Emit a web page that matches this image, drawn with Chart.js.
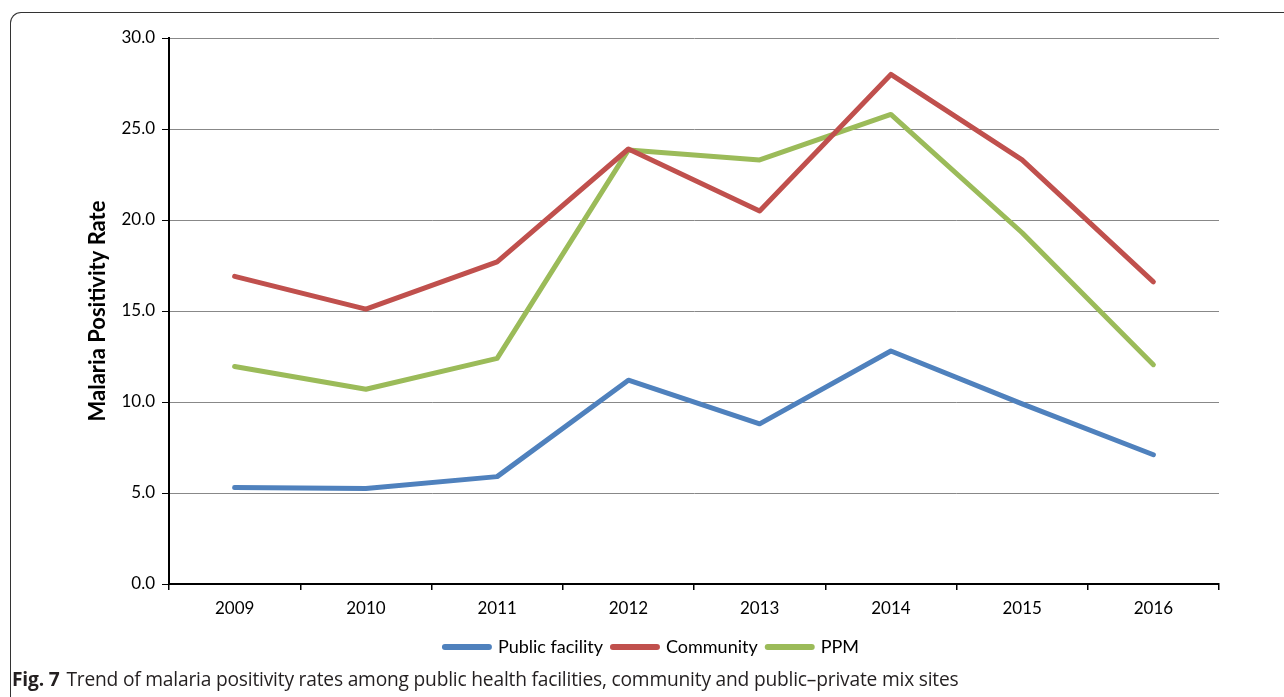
<!DOCTYPE html>
<html>
<head>
<meta charset="utf-8">
<script src="https://cdn.jsdelivr.net/npm/chart.js@4"></script>
<style>
  html, body { margin: 0; padding: 0; background: #fff; }
  #wrap { position: relative; width: 1284px; height: 697px; overflow: hidden; }
  #frame {
    position: absolute; left: 10px; top: 12px; width: 1400px; height: 800px;
    border-left: 1.5px solid #333; border-top: 1.5px solid #333;
    border-top-left-radius: 11px;
  }
  #chart { position: absolute; left: 0; top: 0; }
  #caption {
    position: absolute; left: 12px; top: 665px;
    font-family: "Open Sans", sans-serif; font-size: 19.2px; color: #231f20;
    white-space: nowrap; letter-spacing: -0.2px;
  }
  #caption b { font-weight: 700; margin-right: 7px; }
</style>
</head>
<body>
<div id="wrap">
  <div id="frame"></div>
  <canvas id="chart" width="1284" height="697"></canvas>
  <div id="caption"><b>Fig. 7</b>Trend of malaria positivity rates among public health facilities, community and public–private mix sites</div>
</div>
<script>
const years = ['2009', '2010', '2011', '2012', '2013', '2014', '2015', '2016'];
const publicFacility = [5.3, 5.25, 5.9, 11.2, 8.8, 12.8, 9.9, 7.1];
const community = [16.9, 15.1, 17.7, 23.9, 20.5, 28.0, 23.3, 16.6];
const ppm = [11.95, 10.7, 12.4, 23.85, 23.3, 25.8, 19.3, 12.05];
const yTicks = [0, 5, 10, 15, 20, 25, 30];

const ctx = document.getElementById('chart');

function line(label, data, color) {
  return {
    label: label,
    data: data,
    borderColor: color,
    backgroundColor: color,
    borderWidth: 5,
    borderCapStyle: 'round',
    borderJoinStyle: 'round',
    pointRadius: 0,
    pointStyle: 'line',
    tension: 0
  };
}

new Chart(ctx, {
  type: 'line',
  data: {
    labels: years,
    datasets: [
      line('Public facility', publicFacility, '#4f81bd'),
      line('Community', community, '#c0504d'),
      line('PPM', ppm, '#9bbb59')
    ]
  },
  options: {
    responsive: false,
    animation: false,
    layout: { padding: { left: 85, right: 65, top: 38, bottom: 31 } },
    plugins: {
      tooltip: { enabled: false },
      legend: {
        position: 'bottom',
        labels: {
          usePointStyle: true,
          pointStyleWidth: 44,
          boxHeight: 6,
          padding: 10,
          color: '#000',
          font: { family: 'Lato', size: 18 },
          generateLabels: function (chart) {
            const items = Chart.defaults.plugins.legend.labels.generateLabels(chart);
            return items.map(it => Object.assign(it, { lineCap: 'round', lineWidth: 6 }));
          }
        }
      }
    },
    scales: {
      x: {
        offset: true,
        afterFit: function (s) { s.height = 44; },
        grid: {
          offset: true,
          drawOnChartArea: false,
          color: '#000',
          tickLength: 6,
          lineWidth: 1.5
        },
        border: { color: '#000', width: 2 },
        ticks: { color: '#000', padding: 8, font: { family: 'Lato', size: 17 } }
      },
      y: {
        min: 0,
        max: 30,
        afterFit: function (s) { s.width = 84; },
        afterBuildTicks: function (s) { s.ticks = yTicks.map(v => ({ value: v })); },
        title: {
          display: true,
          text: 'Malaria Positivity Rate',
          color: '#000',
          padding: 0,
          font: { family: 'Lato', size: 22, weight: 'bold' }
        },
        grid: {
          color: '#888',
          tickColor: '#000',
          tickLength: 7,
          lineWidth: 1
        },
        border: { color: '#000', width: 2 },
        ticks: {
          color: '#000',
          padding: 7,
          font: { family: 'Lato', size: 17 },
          callback: v => v.toFixed(1)
        }
      }
    }
  }
});
</script>
</body>
</html>
